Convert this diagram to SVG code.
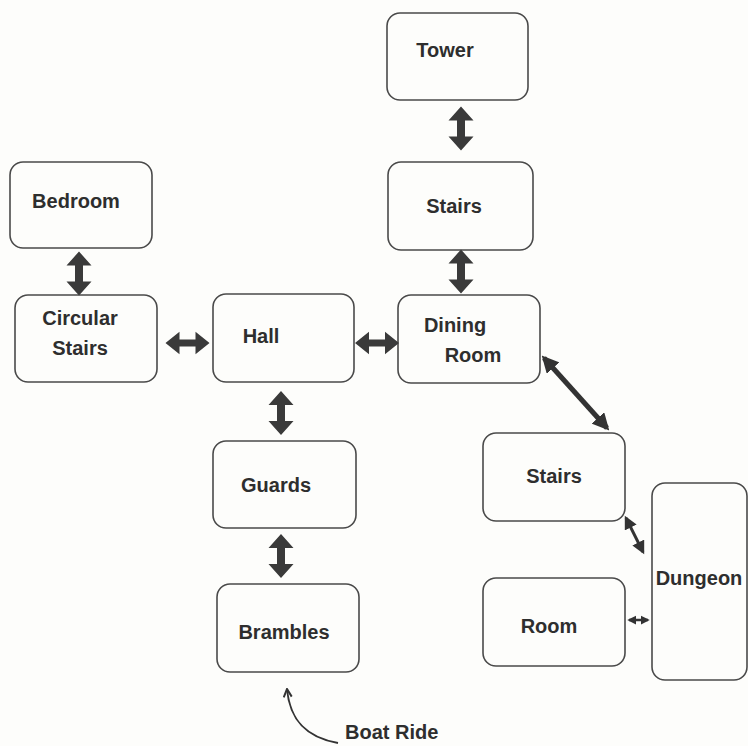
<svg xmlns="http://www.w3.org/2000/svg" width="748" height="746" viewBox="0 0 748 746">
  <style>
    .box { fill: none; stroke: #4a4a4a; stroke-width: 1.6; }
    .lbl { font-family: "Liberation Sans", Arial, sans-serif; font-weight: bold; font-size: 20px; fill: #2e2e2e; }
    .fat { fill: #3a3a3a; }
    .link { stroke: #333; fill: none; }
  </style>
  <defs>
    <!-- chunky two-headed arrow, vertical, centred on origin -->
    <path id="dbl" class="fat" d="M0,-22 L12.5,-8 L4,-8 L4,8 L12.5,8 L0,22 L-12.5,8 L-4,8 L-4,-8 L-12.5,-8 Z"/>
    <marker id="headL" viewBox="0 0 10 10" refX="8" refY="5" markerWidth="3.4" markerHeight="3.4" orient="auto-start-reverse">
      <path d="M0,0 L10,5 L0,10 Z" fill="#333"/>
    </marker>
    <marker id="headS" viewBox="0 0 10 10" refX="8" refY="5" markerWidth="4.6" markerHeight="4.4" orient="auto-start-reverse">
      <path d="M0,0 L10,5 L0,10 Z" fill="#333"/>
    </marker>
    <marker id="headT" viewBox="0 0 10 10" refX="8" refY="5" markerWidth="3.5" markerHeight="4" orient="auto-start-reverse">
      <path d="M0,0 L10,5 L0,10 Z" fill="#333"/>
    </marker>
    <marker id="boatHead" viewBox="0 0 10 10" refX="9" refY="5" markerWidth="5" markerHeight="5" orient="auto">
      <path d="M1,1 L9,5 L1,9" fill="none" stroke="#333" stroke-width="2"/>
    </marker>
  </defs>

  <rect width="748" height="746" fill="#fdfdfb"/>

  <g id="node-tower">
    <rect class="box" x="387" y="13" width="141" height="87" rx="13"/>
    <text class="lbl" x="445" y="57" text-anchor="middle">Tower</text>
  </g>
  <g id="node-stairs-upper">
    <rect class="box" x="388" y="162" width="145" height="88" rx="13"/>
    <text class="lbl" x="454" y="213" text-anchor="middle">Stairs</text>
  </g>
  <g id="node-bedroom">
    <rect class="box" x="10" y="162" width="142" height="86" rx="13"/>
    <text class="lbl" x="76" y="208" text-anchor="middle">Bedroom</text>
  </g>
  <g id="node-circular-stairs">
    <rect class="box" x="15" y="295" width="142" height="87" rx="13"/>
    <text class="lbl" x="80" y="325" text-anchor="middle">Circular</text>
    <text class="lbl" x="80" y="355" text-anchor="middle">Stairs</text>
  </g>
  <g id="node-hall">
    <rect class="box" x="213" y="294" width="141" height="88" rx="13"/>
    <text class="lbl" x="261" y="343" text-anchor="middle">Hall</text>
  </g>
  <g id="node-dining-room">
    <rect class="box" x="398" y="295" width="142" height="88" rx="13"/>
    <text class="lbl" x="455" y="332" text-anchor="middle">Dining</text>
    <text class="lbl" x="473" y="362" text-anchor="middle">Room</text>
  </g>
  <g id="node-guards">
    <rect class="box" x="213" y="441" width="143" height="87" rx="13"/>
    <text class="lbl" x="276" y="492" text-anchor="middle">Guards</text>
  </g>
  <g id="node-brambles">
    <rect class="box" x="217" y="584" width="142" height="88" rx="13"/>
    <text class="lbl" x="284" y="639" text-anchor="middle">Brambles</text>
  </g>
  <g id="node-stairs-lower">
    <rect class="box" x="483" y="433" width="142" height="88" rx="13"/>
    <text class="lbl" x="554" y="483" text-anchor="middle">Stairs</text>
  </g>
  <g id="node-room">
    <rect class="box" x="483" y="578" width="142" height="88" rx="13"/>
    <text class="lbl" x="549" y="633" text-anchor="middle">Room</text>
  </g>
  <g id="node-dungeon">
    <rect class="box" x="652" y="483" width="95" height="197" rx="13"/>
    <text class="lbl" x="699" y="585" text-anchor="middle">Dungeon</text>
  </g>
  <g id="label-boat-ride">
    <text class="lbl" x="345" y="739">Boat Ride</text>
  </g>

  <g id="connectors">
    <use href="#dbl" transform="translate(461,128.5)"/>
    <use href="#dbl" transform="translate(461,271.5)"/>
    <use href="#dbl" transform="translate(79,273.5)"/>
    <use href="#dbl" transform="translate(281,413)"/>
    <use href="#dbl" transform="translate(281,556)"/>
    <use href="#dbl" transform="translate(187.5,343) rotate(90) scale(0.9,1)"/>
    <use href="#dbl" transform="translate(377,343) rotate(90) scale(0.9,1)"/>
    <line class="link" x1="544" y1="358" x2="607" y2="428" stroke-width="5" marker-start="url(#headL)" marker-end="url(#headL)"/>
    <line class="link" x1="626" y1="518" x2="643" y2="552" stroke-width="3" marker-start="url(#headS)" marker-end="url(#headS)"/>
    <line class="link" x1="629" y1="620" x2="648" y2="620" stroke-width="2.5" marker-start="url(#headT)" marker-end="url(#headT)"/>
    <path class="link" d="M338,743 C308,738 290,722 287,689" stroke-width="2" marker-end="url(#boatHead)"/>
  </g>
</svg>
